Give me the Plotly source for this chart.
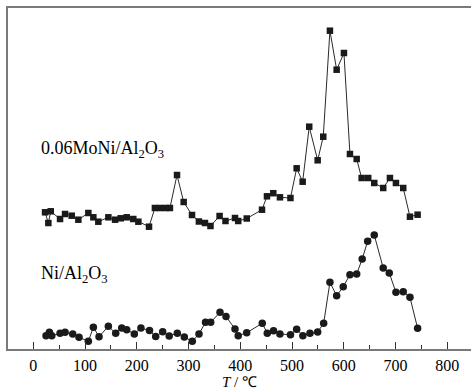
import plotly.graph_objects as go

# 0.06MoNi/Al2O3 (squares)
mo_T = [22.6, 29, 33.6, 51.6, 61.3, 74.2, 87, 106.3, 116, 125.6, 145, 158, 168.9, 180.5, 193.2, 203, 223.6,
        235, 245, 256, 264, 277.7, 290.6, 306.7, 320, 331.8, 342.4, 360, 371.4, 389.8, 396, 412.5,
        442, 451.6, 463.8, 476.7, 497, 509, 520.6, 533.3, 549.6, 560.4, 573.3, 586.3, 600.4,
        612, 625, 634.6, 647.3, 659, 676.3, 689.3, 700.9, 715, 728, 742.8]
mo_I = [136.7, 126, 137.7, 130, 135, 133.3, 129.3, 136, 131.7, 127.3, 131.7, 129.3, 130.7, 131.7, 130, 127.3, 122.3,
        141, 141, 141, 141, 174, 147, 134, 127.5, 126, 123, 133, 128, 131, 128, 130.5,
        139.3, 152.7, 155.8, 151.7, 151, 180.7, 167.3, 222.3, 188.7, 212.3, 318.3, 279.3, 296,
        195, 190, 171, 171, 166, 161, 171, 166, 161, 132.3, 134.3]

# Ni/Al2O3 (circles)
ni_T = [24.5, 31, 35.6, 51.6, 61.3, 76.1, 88.3, 106.3, 116, 127, 145, 159.2, 170.8, 180.5, 195.2, 208, 224.5,
        236.5, 250, 262.6, 278.3, 291.8, 307.2, 320.2, 332.8, 342.8, 360.8, 372.4, 389.8, 396, 412.4,
        442.5, 452.2, 464.3, 476.7, 497, 509, 521, 534.7, 549.6, 561.2, 573.3, 586.3, 599, 612, 625,
        635.7, 646.2, 659, 676.3, 688, 700.9, 715, 728, 742.8]
ni_I = [13.3, 16.7, 13.3, 15.7, 16.7, 15, 11.7, 7.7, 21.7, 12.3, 22.7, 15.7, 21, 19.3, 15, 21, 18.5,
        12.5, 17.3, 13, 15.8, 12, 7.7, 15, 26.7, 26.7, 36.7, 32.5, 20, 13.3, 16.3,
        25.7, 15.8, 18.3, 15, 14.3, 19.7, 13.3, 15.7, 17, 25.7, 66.7, 53.3, 62.3, 74.3, 75,
        90, 107.7, 114, 81, 76, 56.7, 57.3, 51.7, 20.7]

x_ticks = [0, 100, 200, 300, 400, 500, 600, 700, 800]

FONT = "Liberation Serif"
INK = "#1a1a1a"

fig = go.Figure()
fig.add_trace(go.Scatter(x=mo_T, y=mo_I, mode="lines+markers",
                         line=dict(color="#2a2a2a", width=1),
                         marker=dict(symbol="square", size=6.5, color=INK),
                         showlegend=False))
fig.add_trace(go.Scatter(x=ni_T, y=ni_I, mode="lines+markers",
                         line=dict(color="#2a2a2a", width=1),
                         marker=dict(symbol="circle", size=7.5, color=INK),
                         showlegend=False))

fig.add_annotation(x=11, y=200, xref="x", yref="y", xanchor="left", yanchor="middle",
                   text="0.06MoNi/Al<sub>2</sub>O<sub>3</sub>", showarrow=False,
                   font=dict(family=FONT, size=18, color="black"))
fig.add_annotation(x=11, y=75, xref="x", yref="y", xanchor="left", yanchor="middle",
                   text="Ni/Al<sub>2</sub>O<sub>3</sub>", showarrow=False,
                   font=dict(family=FONT, size=18, color="black"))
# x-axis title
fig.add_annotation(x=0.5, y=-0.1228, xref="paper", yref="paper", xanchor="center", yanchor="bottom",
                   text="<i>T</i> / ℃", showarrow=False, borderpad=0,
                   font=dict(family=FONT, size=15, color="black"))

fig.update_layout(
    width=471, height=391,
    margin=dict(l=8, r=0, t=8, b=42),
    paper_bgcolor="white", plot_bgcolor="white",
    font=dict(family=FONT, size=18, color="black"),
)
fig.update_xaxes(range=[-49, 846], tickvals=x_ticks, ticktext=[str(v) for v in x_ticks],
                 showgrid=False, zeroline=False,
                 showline=True, linecolor="#7a7a7a", linewidth=1.5, mirror=True,
                 ticks="inside", ticklen=7, tickwidth=1, tickcolor="#333",
                 minor=dict(ticks="inside", ticklen=4, tickwidth=1, tickcolor="#333", dtick=50, tick0=0),
                 tickfont=dict(family=FONT, size=16, color="black"),
                 ticklabelstandoff=1)
fig.update_yaxes(range=[0, 341], showgrid=False, zeroline=False, showticklabels=False, ticks="",
                 showline=True, linecolor="#7a7a7a", linewidth=1.5, mirror=False)

fig.write_html("out.html")
